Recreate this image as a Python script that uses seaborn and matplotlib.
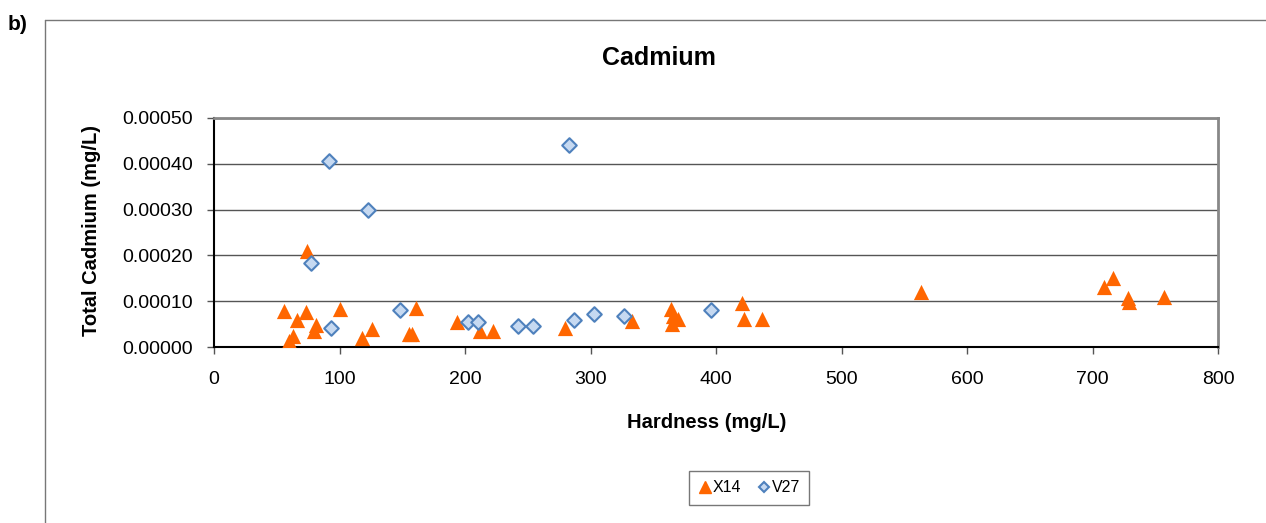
import matplotlib
matplotlib.use("Agg")
import matplotlib.pyplot as plt
import seaborn as sns
import pandas as pd
from matplotlib.lines import Line2D

# Data
x14_hardness = [56, 74, 66, 73, 63, 60, 81, 80, 100, 118, 126, 155, 158, 161,
                194, 212, 222, 280, 333, 364, 366, 365, 370, 421, 422, 437,
                563, 709, 716, 728, 729, 757]
x14_cadmium = [0.000079, 0.000210, 0.000059, 0.000076, 0.000024, 0.000013,
               0.000048, 0.000035, 0.000083, 0.000020, 0.000040, 0.000028,
               0.000028, 0.000085, 0.000055, 0.000036, 0.000036, 0.000041,
               0.000056, 0.000082, 0.000068, 0.000050, 0.000062, 0.000096,
               0.000061, 0.000061, 0.000119, 0.000130, 0.000150, 0.000107,
               0.000099, 0.000109]
v27_hardness = [92, 123, 77, 93, 148, 202, 210, 242, 254, 283, 287, 303, 327, 396]
v27_cadmium = [0.000406, 0.000300, 0.000183, 0.000041, 0.000081, 0.000054,
               0.000054, 0.000046, 0.000046, 0.000440, 0.000058, 0.000073,
               0.000068, 0.000080]
series_names = ["X14", "V27"]
x_ticks = [0, 100, 200, 300, 400, 500, 600, 700, 800]
y_ticks = [0.0, 0.0001, 0.0002, 0.0003, 0.0004, 0.0005]

df = pd.concat([
    pd.DataFrame({"Hardness": x14_hardness, "Cadmium": x14_cadmium, "Site": series_names[0]}),
    pd.DataFrame({"Hardness": v27_hardness, "Cadmium": v27_cadmium, "Site": series_names[1]}),
])

sns.set_style("white")
plt.rcParams["font.family"] = ["Liberation Sans", "DejaVu Sans"]
plt.rcParams["text.color"] = "black"
plt.rcParams["axes.labelcolor"] = "black"
plt.rcParams["xtick.color"] = "black"
plt.rcParams["ytick.color"] = "black"

fig = plt.figure(figsize=(12.66, 5.23), dpi=100)
ax = fig.add_axes([214/1266, 1-347/523, (1218-214)/1266, (347-118)/523])

orange = "#FF6600"
blue_face = "#C6D9F1"
blue_edge = "#4F81BD"

for name, marker, face, edge, size in [("X14", "^", orange, orange, 120),
                                       ("V27", "D", blue_face, blue_edge, 55)]:
    sub = df[df["Site"] == name]
    sns.scatterplot(data=sub, x="Hardness", y="Cadmium", ax=ax, marker=marker,
                    color=face, edgecolor=edge, linewidth=1.5 if name == "V27" else 0,
                    s=size, legend=False, zorder=3)

ax.set_xlim(0, 800)
ax.set_ylim(0, 0.0005)
ax.set_xticks(x_ticks)
ax.set_yticks(y_ticks)
ax.set_xticklabels([str(t) for t in x_ticks], fontsize=14)
ax.set_yticklabels([f"{t:.5f}" for t in y_ticks], fontsize=14)
ax.grid(axis="y", color="#555555", linewidth=1)
ax.set_axisbelow(True)
ax.tick_params(axis="both", direction="out", length=5, width=1, color="#555555",
               bottom=True, left=True)
ax.tick_params(axis="y", pad=10)
ax.tick_params(axis="x", pad=12)
for side in ["left", "bottom"]:
    ax.spines[side].set_color("black")
    ax.spines[side].set_linewidth(1.5)
for side in ["top", "right"]:
    ax.spines[side].set_color("#888888")
    ax.spines[side].set_linewidth(2)

ax.set_xlabel("Hardness (mg/L)", fontsize=14.5, fontweight="bold")
ax.set_ylabel("Total Cadmium (mg/L)", fontsize=14.5, fontweight="bold")
ax.xaxis.label.set_va("center")
ax.yaxis.label.set_va("center")
ax.xaxis.set_label_coords((707-214)/1004, (347-423)/229)
ax.yaxis.set_label_coords((92-214)/1004, (347-230)/229)

fig.text(659/1266, 1-58/523, "Cadmium", ha="center", va="center",
         fontsize=18, fontweight="bold")
fig.text(8/1266, 1-24/523, "b)", ha="left", va="center", fontsize=15, fontweight="bold")

# Chart frame (left and top edges)
fig.add_artist(Line2D([45/1266, 45/1266], [0, 1-20/523], transform=fig.transFigure,
                      color="#777777", linewidth=1))
fig.add_artist(Line2D([45/1266, 1], [1-20/523, 1-20/523], transform=fig.transFigure,
                      color="#777777", linewidth=1))

handles = [
    Line2D([], [], linestyle="none", marker="^", markersize=8, markerfacecolor=orange,
           markeredgecolor=orange),
    Line2D([], [], linestyle="none", marker="D", markersize=5, markerfacecolor=blue_face,
           markeredgecolor=blue_edge, markeredgewidth=1.5),
]
leg = fig.legend(handles, series_names, loc="center", bbox_to_anchor=(749/1266, 1-488/523),
                 ncol=2, fontsize=11.5, frameon=True, fancybox=False, handlelength=0.8,
                 handletextpad=0.1, columnspacing=1.0, borderpad=0.6)
leg.get_frame().set_edgecolor("#555555")
leg.get_frame().set_linewidth(1)

fig.savefig("out.png", dpi=100)
